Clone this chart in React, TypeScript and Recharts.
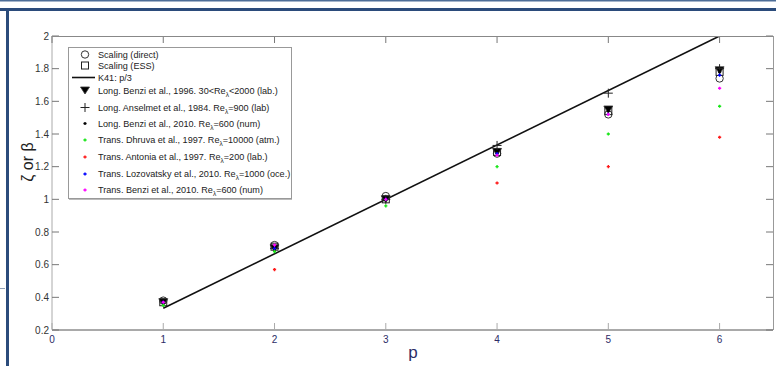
import React from "react";
import { ComposedChart, Line, Scatter, XAxis, YAxis } from "recharts";

// structure-function exponents vs order p
const orders = [1, 2, 3, 4, 5, 6];
const scalingDirect = [0.38, 0.72, 1.02, 1.28, 1.52, 1.74];
const scalingEss = [0.37, 0.71, 1.0, 1.29, 1.54, 1.78];
const k41Orders = [1, 6];
const k41 = [0.333, 2.0];
const benzi1996Long = [0.37, 0.7, 1.0, 1.29, 1.55, 1.79];
const anselmetOrders = [2, 3, 4, 5, 6];
const anselmetLong = [0.7, 1.0, 1.33, 1.65, 1.8];
const benzi2010Long = [0.37, 0.7, 1.0, 1.28, 1.54, 1.78];
const dhruvaTrans = [0.35, 0.68, 0.96, 1.2, 1.4, 1.57];
const antoniaOrders = [2, 4, 5, 6];
const antoniaTrans = [0.57, 1.1, 1.2, 1.38];
const lozovatskyTrans = [0.37, 0.7, 1.0, 1.28, 1.52, 1.76];
const benzi2010Trans = [0.37, 0.72, 1.0, 1.27, 1.52, 1.68];

const xTicks = [0, 1, 2, 3, 4, 5, 6];
const yTicks = [0.2, 0.4, 0.6, 0.8, 1, 1.2, 1.4, 1.6, 1.8, 2];

const legendLabels = [
  "Scaling (direct)",
  "Scaling (ESS)",
  "K41: p/3",
  "Long. Benzi et al., 1996. 30<Re_λ<2000 (lab.)",
  "Long. Anselmet et al., 1984. Re_λ=900 (lab)",
  "Long. Benzi et al., 2010. Re_λ=600 (num)",
  "Trans. Dhruva et al., 1997. Re_λ=10000 (atm.)",
  "Trans. Antonia et al., 1997. Re_λ=200 (lab.)",
  "Trans. Lozovatsky et al., 2010. Re_λ=1000 (oce.)",
  "Trans. Benzi et al., 2010. Re_λ=600 (num)",
];

const W = 776;
const H = 366;
const PL = 52;
const PT = 36;
const PR = 773;
const PB = 330;
const FONT = "'Liberation Sans', Arial, sans-serif";

const toPoints = (xs: number[], ys: number[]) => xs.map((p, i) => ({ p, v: ys[i] }));

type Kind = "circle" | "square" | "triangle" | "plus" | "dot";

function marker(kind: Kind, color: string, cx: number, cy: number) {
  switch (kind) {
    case "circle":
      return <circle cx={cx} cy={cy} r={3.7} fill="none" stroke="#333" strokeWidth={1} />;
    case "square":
      return <rect x={cx - 3.5} y={cy - 3.5} width={7} height={7} fill="none" stroke="#222" strokeWidth={1} />;
    case "triangle":
      return (
        <path
          d={`M${cx - 4.5},${cy - 3.5} L${cx + 4.5},${cy - 3.5} L${cx},${cy + 3.5} Z`}
          fill="#000"
          stroke="#333"
          strokeWidth={0.8}
        />
      );
    case "plus":
      return (
        <path d={`M${cx - 4.5},${cy} H${cx + 4.5} M${cx},${cy - 4.5} V${cy + 4.5}`} stroke="#222" strokeWidth={1} />
      );
    default:
      return (
        <path
          d={`M${cx - 1.6},${cy} H${cx + 1.6} M${cx},${cy - 1.6} V${cy + 1.6}`}
          stroke={color}
          strokeWidth={1.4}
        />
      );
  }
}

const series: { name: string; kind: Kind; color: string; data: { p: number; v: number }[] }[] = [
  { name: "direct", kind: "circle", color: "#333", data: toPoints(orders, scalingDirect) },
  { name: "ess", kind: "square", color: "#222", data: toPoints(orders, scalingEss) },
  { name: "benzi96", kind: "triangle", color: "#000", data: toPoints(orders, benzi1996Long) },
  { name: "anselmet", kind: "plus", color: "#222", data: toPoints(anselmetOrders, anselmetLong) },
  { name: "benzi10l", kind: "dot", color: "#000", data: toPoints(orders, benzi2010Long) },
  { name: "dhruva", kind: "dot", color: "#19e619", data: toPoints(orders, dhruvaTrans) },
  { name: "antonia", kind: "dot", color: "#ff1a1a", data: toPoints(antoniaOrders, antoniaTrans) },
  { name: "lozovatsky", kind: "dot", color: "#0000ff", data: toPoints(orders, lozovatskyTrans) },
  { name: "benzi10t", kind: "dot", color: "#ff00ff", data: toPoints(orders, benzi2010Trans) },
];

const legendKinds: (Kind | "line")[] = ["circle", "square", "line", "triangle", "plus", "dot", "dot", "dot", "dot", "dot"];
const legendColors = ["#333", "#222", "#000", "#000", "#222", "#000", "#19e619", "#ff1a1a", "#0000ff", "#ff00ff"];
const legendRowY = [54.5, 65.5, 77.5, 90.5, 107.5, 123.5, 140, 157, 174, 190];

function XTick(props: any) {
  const { x, y, payload } = props;
  return (
    <g>
      <line x1={x} x2={x} y1={PB - 1} y2={PB - 7} stroke="#aaa" />
      <line x1={x} x2={x} y1={PT} y2={PT + 7} stroke="#777" />
      <text x={x} y={y + 13} textAnchor="middle" fontSize={10} fontFamily={FONT} fill="#2c2c66">
        {payload.value}
      </text>
    </g>
  );
}

function YTick(props: any) {
  const { x, y, payload } = props;
  return (
    <g>
      <line x1={PL} x2={PL + 7} y1={y} y2={y} stroke="#777" />
      <line x1={PR} x2={PR - 7} y1={y} y2={y} stroke="#777" />
      <text x={x - 3} y={y} dy="0.35em" textAnchor="end" fontSize={10} fontFamily={FONT} fill="#333">
        {payload.value}
      </text>
    </g>
  );
}

function LegendText({ label, x, y }: { label: string; x: number; y: number }) {
  const parts = label.split("_λ");
  return (
    <text x={x} y={y} dy="0.35em" fontSize={9.1} fontFamily={FONT} fill="#222">
      {parts[0]}
      {parts.length > 1 && (
        <>
          <tspan dy={3} fontSize={6.5}>
            λ
          </tspan>
          <tspan dy={-3}>{parts[1]}</tspan>
        </>
      )}
    </text>
  );
}

export default function App() {
  return (
    <div style={{ position: "absolute", left: 0, top: 0, width: W, height: H, background: "#fff" }}>
      <ComposedChart width={W} height={H} margin={{ top: PT, right: W - PR, bottom: H - PB - 20, left: PL - 40 }}>
        <XAxis
          type="number"
          dataKey="p"
          domain={[0, 6.48]}
          ticks={xTicks}
          interval={0}
          height={20}
          tickSize={0}
          tickMargin={0}
          tickLine={false}
          axisLine={{ stroke: "#555" }}
          tick={XTick}
          allowDataOverflow
          label={{
            content: () => (
              <text x={413} y={358} textAnchor="middle" fontSize={17} fontFamily={FONT} fill="#2c2c66">
                p
              </text>
            ),
          }}
        />
        <YAxis
          type="number"
          dataKey="v"
          domain={[0.2, 2]}
          ticks={yTicks}
          interval={0}
          width={40}
          tickSize={0}
          tickMargin={0}
          tickLine={false}
          axisLine={{ stroke: "#aaa" }}
          tick={YTick}
          allowDataOverflow
          label={{
            content: () => (
              <text
                x={27}
                y={162}
                transform="rotate(-90 27 162)"
                textAnchor="middle"
                dy="0.35em"
                fontSize={16}
                fontFamily={FONT}
                fill="#222"
              >
                ζ or β
              </text>
            ),
          }}
        />
        <Line
          data={toPoints(k41Orders, k41)}
          dataKey="v"
          type="linear"
          stroke="#111"
          strokeWidth={1.6}
          dot={false}
          isAnimationActive={false}
        />
        {series.map((s) => (
          <Scatter
            key={s.name}
            name={s.name}
            data={s.data}
            dataKey="v"
            isAnimationActive={false}
            shape={(props: any) => marker(s.kind, s.color, props.cx, props.cy)}
          />
        ))}
      </ComposedChart>

      <svg width={W} height={H} style={{ position: "absolute", left: 0, top: 0, pointerEvents: "none" }}>
        {/* plot frame, top and right */}
        <line x1={PL} x2={PR} y1={PT + 0.5} y2={PT + 0.5} stroke="#888" />
        <line x1={PR + 0.5} x2={PR + 0.5} y1={PT} y2={PB} stroke="#999" />

        {/* page decoration */}
        <rect x={0} y={0} width={W} height={1.5} fill="#4d6d97" />
        <rect x={0} y={8} width={W} height={3} fill="#2b4b7b" />
        <rect x={6} y={8} width={3} height={H - 8} fill="#2b4b7b" />
        <line x1={0} x2={5} y1={288.5} y2={288.5} stroke="#8ea0b8" />

        {/* legend */}
        <rect x={68.5} y={47.5} width={223} height={151} fill="#fff" stroke="#999" />
        <line x1={69} x2={292} y1={199.5} y2={199.5} stroke="#bbb" />
        {legendLabels.map((label, i) => {
          const y = legendRowY[i];
          const kind = legendKinds[i];
          return (
            <g key={label}>
              {kind === "line" ? (
                <line x1={72} x2={95} y1={y} y2={y} stroke="#111" strokeWidth={1.6} />
              ) : (
                marker(kind, legendColors[i], 85, y)
              )}
              <LegendText label={label} x={98} y={y} />
            </g>
          );
        })}
      </svg>
    </div>
  );
}
